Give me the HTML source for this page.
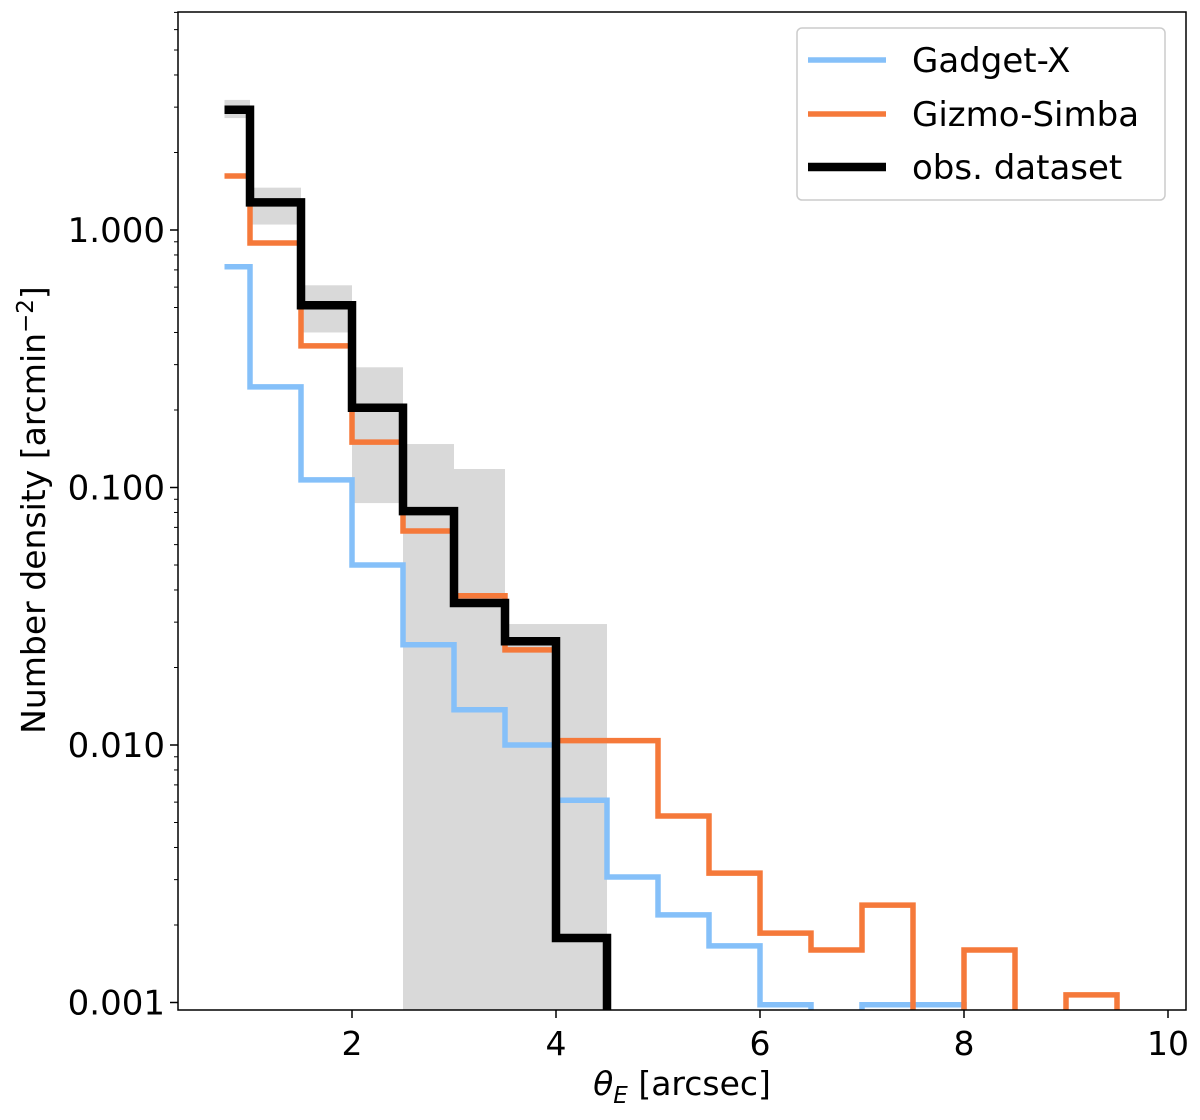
<!DOCTYPE html>
<html><head><meta charset="utf-8"><style>
body{margin:0;background:#fff}
svg text{font-family:"DejaVu Sans","Liberation Sans",sans-serif;fill:#000}
</style></head><body>
<svg id="c" width="1200" height="1115"></svg>
<script>
const edges=[0.75,1,1.5,2,2.5,3,3.5,4,4.5,5,5.5,6,6.5,7,7.5,8,8.5,9,9.5];
const blueVals=[0.72,0.246,0.107,0.050,0.0245,0.0137,0.0100,0.0061,0.00307,0.00219,0.00166,0.00098,0,0.00098,0.00098,0,0,0];
const orangeVals=[1.62,0.89,0.355,0.150,0.0678,0.038,0.0234,0.0104,0.0104,0.0053,0.00318,0.00186,0.0016,0.00239,0,0.0016,0,0.00107];
const obsVals=[2.93,1.28,0.51,0.204,0.081,0.0356,0.0253,0.00178];
const bandUpper=[3.2,1.46,0.61,0.293,0.1475,0.118,0.0295,0.0295];
const bandLower=[2.72,1.05,0.40,0.087,0,0,0,0];
const xTicks=[2,4,6,8,10];
const yTicks=[0.001,0.01,0.1,1];
const yTickLabels=["0.001","0.010","0.100","1.000"];
const L=178,R=1186,T=12,B=1010;
const X=v=>148+102*v;
const Y=v=>v<=0?1040:230-257.5*Math.log10(v);
const NS="http://www.w3.org/2000/svg";
const svg=document.getElementById('c');
function mk(t,a,p){const e=document.createElementNS(NS,t);for(const k in a)e.setAttribute(k,a[k]);(p||svg).appendChild(e);return e;}
const defs=mk('defs',{});const cp=mk('clipPath',{id:'cp'},defs);mk('rect',{x:L,y:T,width:R-L,height:B-T},cp);
const g=mk('g',{'clip-path':'url(#cp)'});

for(let i=0;i<bandUpper.length;i++){
 const r=mk('rect',{x:X(edges[i]),y:Y(bandUpper[i]),width:X(edges[i+1])-X(edges[i]),height:Y(bandLower[i])-Y(bandUpper[i]),fill:'#d9d9d9'},g);
 
}
function step(vals,col,w,name,closeEnd){
 let d='M'+X(edges[0])+','+Y(vals[0]);
 for(let i=0;i<vals.length;i++){
  if(i>0)d+=' L'+X(edges[i])+','+Y(vals[i]);
  d+=' L'+X(edges[i+1])+','+Y(vals[i]);
 }
 if(closeEnd)d+=' L'+X(edges[vals.length])+',1040';
 const p=mk('path',{d:d,fill:'none',stroke:col,'stroke-width':w,'stroke-linejoin':'miter'},g);
 
}
step(blueVals,'#85c0f9',5.5,'gadget-x-histogram',true);
step(orangeVals,'#f5793a',5.5,'gizmo-simba-histogram',true);
step(obsVals,'#000',8.5,'obs-dataset-histogram',true);
const fr=mk('rect',{x:L,y:T,width:R-L,height:B-T,fill:'none',stroke:'#000','stroke-width':1.5});

xTicks.forEach(v=>{mk('line',{x1:X(v),x2:X(v),y1:B,y2:B+8,stroke:'#000','stroke-width':1.5});
 const t=mk('text',{x:X(v),y:B+45,'text-anchor':'middle','font-size':33});t.textContent=v;
 });
yTicks.forEach((v,i)=>{mk('line',{x1:L-8,x2:L,y1:Y(v),y2:Y(v),stroke:'#000','stroke-width':1.5});
 const t=mk('text',{x:L-13,y:Y(v)+12,'text-anchor':'end','font-size':34});t.textContent=yTickLabels[i];
 });
for(let d=-4;d<1;d++)for(let m=2;m<10;m++){const v=m*Math.pow(10,d);const y=Y(v);if(y>T&&y<B)mk('line',{x1:L-4,x2:L,y1:y,y2:y,stroke:'#000','stroke-width':1});}
const xl=mk('text',{x:682,y:1095,'text-anchor':'middle','font-size':33});
xl.innerHTML='<tspan font-style="italic">θ</tspan><tspan font-style="italic" font-size="23" dy="8">E</tspan><tspan dy="-8"> [arcsec]</tspan>';

const yl=mk('text',{x:0,y:0,'text-anchor':'middle','font-size':33,transform:'translate(45,510) rotate(-90)'});
yl.innerHTML='Number density [arcmin<tspan font-size="23" dy="-12">−2</tspan><tspan dy="12">]</tspan>';

const lg=mk('g',{});
mk('rect',{x:797,y:28,width:368,height:172,rx:5,fill:'#fff',stroke:'#ccc','stroke-width':1.5},lg);
[['Gadget-X','#85c0f9',5.5,60],['Gizmo-Simba','#f5793a',5.5,114],['obs. dataset','#000',8.5,167]].forEach(e=>{
 const en=mk('g',{},lg);
 mk('line',{x1:808,x2:886,y1:e[3],y2:e[3],stroke:e[1],'stroke-width':e[2]},en);
 const t=mk('text',{x:912,y:e[3]+12,'font-size':34},en);t.textContent=e[0];
});
</script>
</body></html>
